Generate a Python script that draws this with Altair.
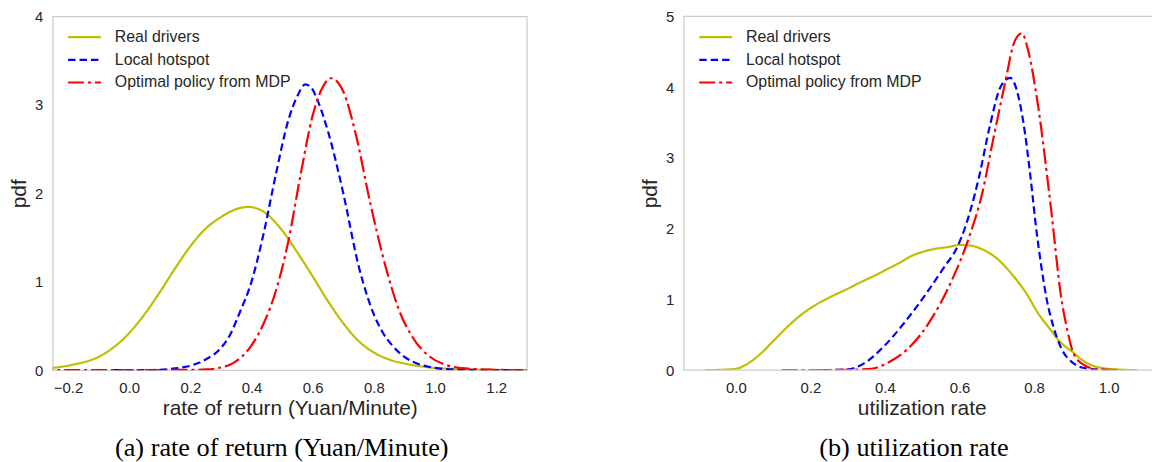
import altair as alt
import pandas as pd

SERIES = ["Real drivers", "Local hotspot", "Optimal policy from MDP"]
COLORS = ["#bfbf00", "#0000ff", "#ff0000"]
DASHES = [[1, 0], [7.5, 4], [16, 4, 3, 4]]

# ---- (a) rate of return (Yuan/Minute): kernel density estimates ----
ret_real_x = [-0.30, -0.25, -0.18, -0.10, -0.05, 0.00, 0.05, 0.10, 0.15, 0.20, 0.25, 0.30,
              0.35, 0.39, 0.44, 0.50, 0.55, 0.60, 0.65, 0.70, 0.75, 0.80, 0.85, 0.90,
              0.95, 1.00, 1.05, 1.10, 1.20, 1.30]
ret_real_y = [0.015, 0.026, 0.065, 0.15, 0.26, 0.42, 0.63, 0.88, 1.15, 1.40, 1.60, 1.73,
              1.82, 1.845, 1.79, 1.58, 1.33, 1.06, 0.78, 0.53, 0.33, 0.20, 0.12, 0.075,
              0.045, 0.025, 0.015, 0.008, 0.002, 0.0]

ret_local_x = [-0.05, 0.05, 0.10, 0.15, 0.20, 0.25, 0.30, 0.33, 0.36, 0.40, 0.44, 0.48,
               0.52, 0.55, 0.576, 0.60, 0.616, 0.65, 0.70, 0.75, 0.78, 0.80, 0.83, 0.86,
               0.90, 0.95, 1.00, 1.05, 1.15, 1.30]
ret_local_y = [0.0, 0.0, 0.005, 0.02, 0.05, 0.12, 0.25, 0.40, 0.64, 1.00, 1.55, 2.22,
               2.82, 3.10, 3.23, 3.17, 3.05, 2.70, 2.00, 1.18, 0.82, 0.63, 0.42, 0.28,
               0.15, 0.065, 0.025, 0.01, 0.002, 0.0]

ret_mdp_x = [-0.30, 0.20, 0.25, 0.30, 0.34, 0.40, 0.44, 0.48, 0.52, 0.56, 0.60, 0.63,
             0.66, 0.70, 0.74, 0.79, 0.84, 0.88, 0.925, 0.98, 1.03, 1.10, 1.19, 1.30]
ret_mdp_y = [0.0, 0.003, 0.008, 0.03, 0.08, 0.28, 0.53, 0.90, 1.45, 2.20, 2.88, 3.18,
             3.30, 3.15, 2.68, 1.86, 1.15, 0.70, 0.38, 0.16, 0.065, 0.02, 0.005, 0.0]

# ---- (b) utilization rate: kernel density estimates ----
util_real_x = [-0.082, -0.04, 0.00, 0.04, 0.07, 0.10, 0.15, 0.19, 0.22, 0.26, 0.30, 0.33,
               0.37, 0.40, 0.44, 0.47, 0.50, 0.54, 0.57, 0.60, 0.63, 0.66, 0.70, 0.74,
               0.78, 0.81, 0.84, 0.87, 0.905, 0.93, 0.96, 0.99, 1.03, 1.077]
util_real_y = [0.0, 0.005, 0.02, 0.12, 0.25, 0.41, 0.67, 0.84, 0.94, 1.05, 1.15, 1.23,
               1.33, 1.41, 1.52, 1.61, 1.67, 1.72, 1.74, 1.77, 1.76, 1.71, 1.58, 1.36,
               1.08, 0.81, 0.60, 0.40, 0.25, 0.14, 0.06, 0.025, 0.008, 0.0]

util_local_x = [0.237, 0.30, 0.345, 0.398, 0.452, 0.505, 0.558, 0.595, 0.629, 0.652,
                0.681, 0.71, 0.736, 0.764, 0.776, 0.79, 0.807, 0.82, 0.834, 0.85, 0.874,
                0.905, 0.935, 0.97, 1.00]
util_local_y = [0.0, 0.01, 0.10, 0.34, 0.67, 1.04, 1.45, 1.75, 2.25, 2.72,
                3.44, 4.00, 4.13, 3.72, 3.34, 2.75, 1.95, 1.45, 1.00, 0.65, 0.30,
                0.10, 0.03, 0.008, 0.0]

util_mdp_x = [0.123, 0.30, 0.363, 0.416, 0.469, 0.523, 0.576, 0.629, 0.661, 0.69, 0.72,
              0.749, 0.767, 0.785, 0.809, 0.843, 0.874, 0.89, 0.905, 0.935, 0.974, 1.035]
util_mdp_y = [0.0, 0.005, 0.02, 0.13, 0.34, 0.71, 1.23, 1.93, 2.50, 3.25, 4.00,
              4.66, 4.76, 4.50, 3.80, 2.40, 0.99, 0.55, 0.25, 0.07, 0.01, 0.0]

TEXT = "#262626"
EDGE = "#cccccc"
SANS = "Liberation Sans"
SERIF = "Liberation Serif"
H = 356


def legend():
    return alt.Legend(
        orient="none", legendX=24, legendY=13, title=None,
        symbolType="M-3,0L3,0", symbolSize=121, symbolStrokeWidth=2.2,
        labelFont=SANS, labelFontSize=16, labelColor=TEXT, labelLimit=0,
        labelOffset=22.5, rowPadding=6.8, padding=0,
    )


def curve(name, xs, ys, xdom, ydom, xaxis, yaxis):
    df = pd.DataFrame({"x": xs, "y": ys, "series": name})
    return alt.Chart(df).mark_line(strokeWidth=2.2, clip=True, interpolate="monotone").encode(
        x=alt.X("x:Q", scale=alt.Scale(domain=xdom, nice=False, zero=False), axis=xaxis),
        y=alt.Y("y:Q", scale=alt.Scale(domain=ydom, nice=False), axis=yaxis),
        color=alt.Color("series:N", scale=alt.Scale(domain=SERIES, range=COLORS), legend=legend()),
        strokeDash=alt.StrokeDash("series:N", scale=alt.Scale(domain=SERIES, range=DASHES),
                                  legend=legend()),
    )


def panel(curves, xdom, ydom, xticks, yticks, width, xtitle, caption, cap_dx,
          title_x=None, open_right=False):
    ax_kw = dict(labelFont=SANS, labelFontSize=15, labelColor=TEXT, labelPadding=10,
                 ticks=False, tickSize=0, domain=False, grid=False, labelFlush=False,
                 labelOverlap=False, titleFont=SANS, titleFontSize=21,
                 titleFontWeight="normal", titleColor=TEXT)
    xkw = dict(ax_kw, title=xtitle, values=xticks, format=".1f", titlePadding=3)
    if title_x is not None:
        xkw["titleX"] = title_x
    xaxis = alt.Axis(**xkw)
    yaxis = alt.Axis(title="pdf", values=yticks, format="d", titlePadding=5, **ax_kw)
    layers = [curve(n, xs, ys, xdom, ydom, xaxis, yaxis) for n, xs, ys in curves]
    props = dict(width=width, height=H,
                 title=alt.TitleParams(caption, orient="bottom", font=SERIF, fontSize=26.4,
                                       fontWeight="normal", color="black", anchor="middle",
                                       frame="group", dx=cap_dx, offset=16))
    if open_right:
        # frame drawn on three sides only; the right side runs past the figure edge
        one = pd.DataFrame({"k": [0]})
        rule = alt.Chart(one).mark_rule(color=EDGE, strokeWidth=1.25)
        layers += [
            rule.encode(x=alt.value(0), x2=alt.value(width), y=alt.value(0)),
            rule.encode(x=alt.value(0), x2=alt.value(width), y=alt.value(H)),
            rule.encode(x=alt.value(0), y=alt.value(0), y2=alt.value(H)),
        ]
        props["view"] = alt.ViewBackground(stroke=None)
    return alt.layer(*layers).properties(**props)


left = panel(
    [(SERIES[0], ret_real_x, ret_real_y), (SERIES[1], ret_local_x, ret_local_y),
     (SERIES[2], ret_mdp_x, ret_mdp_y)],
    [-0.25, 1.30], [0, 4], [-0.2, 0.0, 0.2, 0.4, 0.6, 0.8, 1.0, 1.2], [0, 1, 2, 3, 4],
    477, "rate of return (Yuan/Minute)", "(a) rate of return (Yuan/Minute)", -8,
)

right = panel(
    [(SERIES[0], util_real_x, util_real_y), (SERIES[1], util_local_x, util_local_y),
     (SERIES[2], util_mdp_x, util_mdp_y)],
    [-0.1395, 1.1165], [0, 5], [0.0, 0.2, 0.4, 0.6, 0.8, 1.0], [0, 1, 2, 3, 4, 5],
    471, "utilization rate", "(b) utilization rate", -4, title_x=239.3, open_right=True,
)

chart = alt.hconcat(left, right, spacing=112).resolve_scale(
    color="independent", strokeDash="independent"
).properties(
    padding={"left": 8, "top": 7, "right": 0, "bottom": 0},
    background="white",
).configure_view(stroke=EDGE, strokeWidth=1.25)

chart.save("out.html", embed_options={"renderer": "svg", "actions": False})
